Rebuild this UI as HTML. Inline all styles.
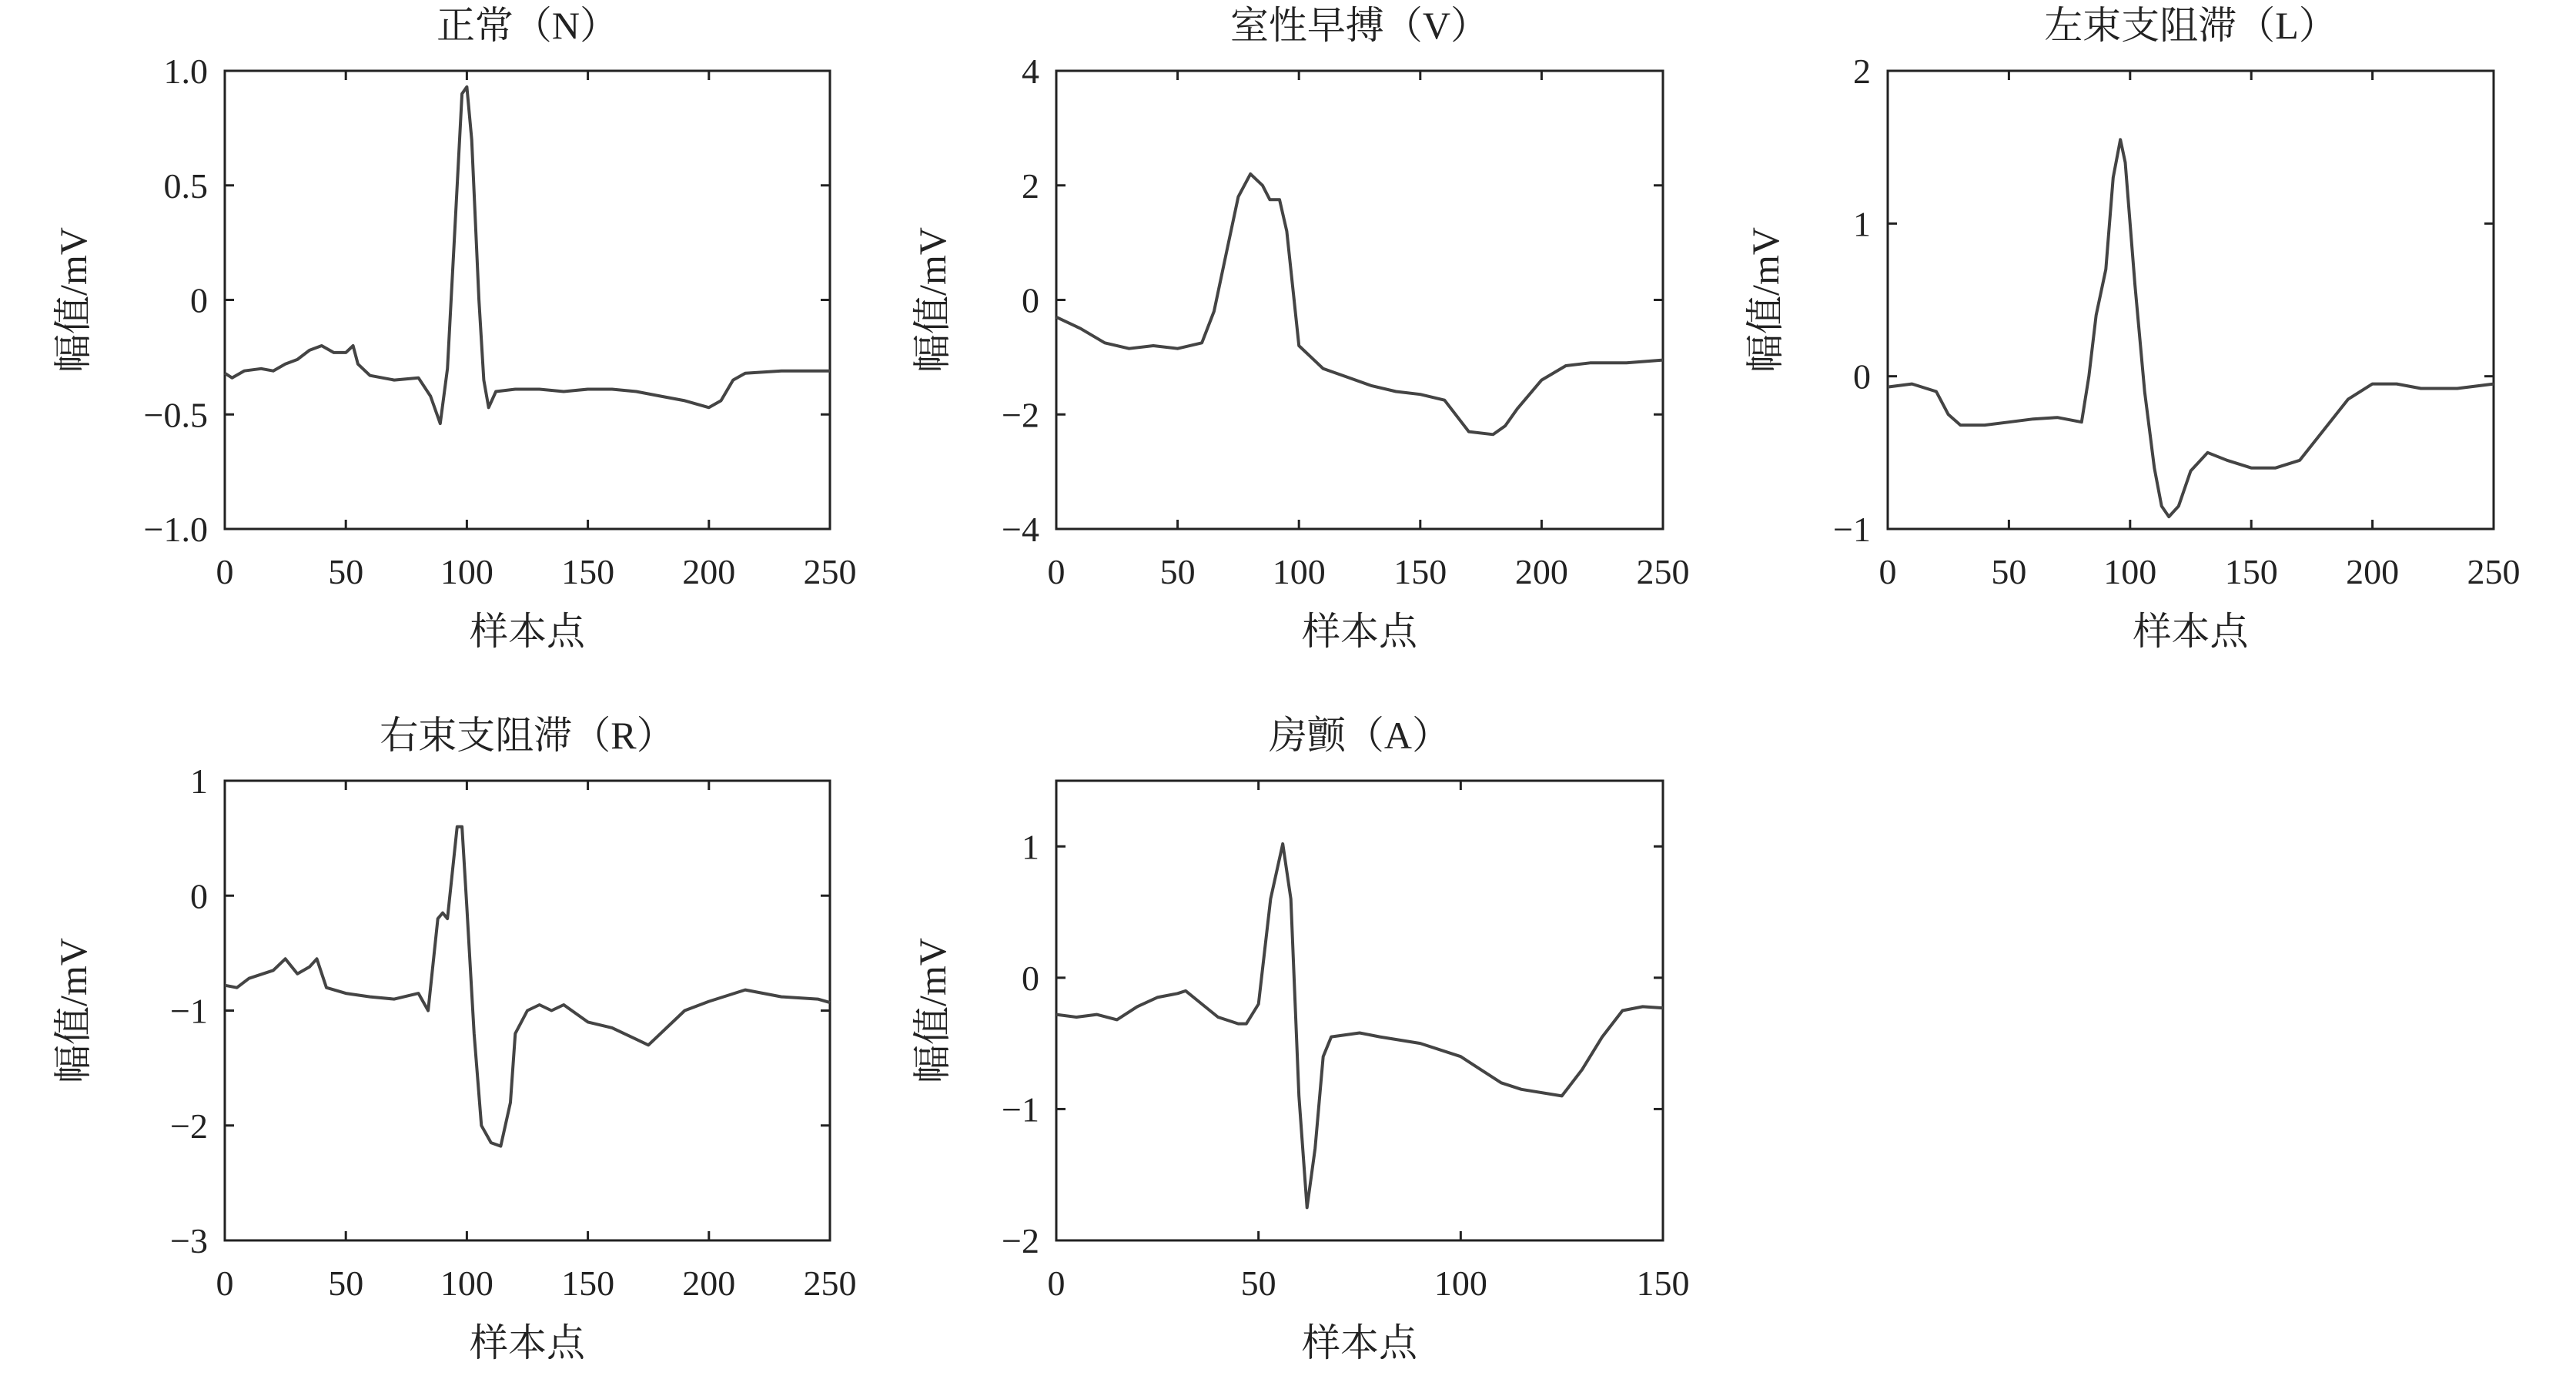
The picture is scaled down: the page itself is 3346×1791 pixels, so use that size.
<!DOCTYPE html>
<html><head><meta charset="utf-8">
<style>
html,body{margin:0;padding:0;background:#fff;}
svg{display:block;}
text{font-family:"Liberation Serif","Noto Serif CJK SC",serif;fill:#222;}
</style></head>
<body>
<svg id="fig" width="3346" height="1791" viewBox="0 0 3346 1791" xmlns="http://www.w3.org/2000/svg"></svg>
<script>
// ---- data arrays ----
const nX = [0,3,8,15,20,25,30,35,40,45,50,53,55,60,70,80,85,89,92,95,98,100,102,105,107,109,112,120,130,140,150,160,170,180,190,200,205,210,215,230,250];
const nY = [-0.32,-0.34,-0.31,-0.30,-0.31,-0.28,-0.26,-0.22,-0.20,-0.23,-0.23,-0.20,-0.28,-0.33,-0.35,-0.34,-0.42,-0.54,-0.30,0.30,0.90,0.93,0.70,0.0,-0.35,-0.47,-0.40,-0.39,-0.39,-0.40,-0.39,-0.39,-0.40,-0.42,-0.44,-0.47,-0.44,-0.35,-0.32,-0.31,-0.31];
const vX = [0,10,20,30,40,50,60,65,70,75,80,85,88,92,95,98,100,105,110,120,130,140,150,160,170,180,185,190,200,210,220,235,250];
const vY = [-0.3,-0.5,-0.75,-0.85,-0.8,-0.85,-0.75,-0.2,0.8,1.8,2.2,2.0,1.75,1.75,1.2,0,-0.8,-1.0,-1.2,-1.35,-1.5,-1.6,-1.65,-1.75,-2.3,-2.35,-2.2,-1.9,-1.4,-1.15,-1.1,-1.1,-1.05];
const lX = [0,10,20,25,30,40,50,60,70,80,83,86,90,93,96,98,102,106,110,113,116,120,125,132,140,150,160,170,180,190,200,210,220,235,250];
const lY = [-0.07,-0.05,-0.1,-0.25,-0.32,-0.32,-0.3,-0.28,-0.27,-0.3,0,0.4,0.7,1.3,1.55,1.4,0.6,-0.1,-0.6,-0.85,-0.92,-0.85,-0.62,-0.5,-0.55,-0.6,-0.6,-0.55,-0.35,-0.15,-0.05,-0.05,-0.08,-0.08,-0.05];
const rX = [0,5,10,20,25,30,35,38,42,50,60,70,80,84,88,90,92,96,98,100,103,106,110,114,118,120,125,130,135,140,150,160,170,175,190,200,215,230,245,250];
const rY = [-0.78,-0.8,-0.72,-0.65,-0.55,-0.68,-0.62,-0.55,-0.8,-0.85,-0.88,-0.9,-0.85,-1.0,-0.2,-0.15,-0.2,0.6,0.6,-0.1,-1.2,-2.0,-2.15,-2.18,-1.8,-1.2,-1.0,-0.95,-1.0,-0.95,-1.1,-1.15,-1.25,-1.3,-1.0,-0.92,-0.82,-0.88,-0.9,-0.93];
const aX = [0,5,10,15,20,25,30,32,36,40,45,47,50,53,56,58,60,62,64,66,68,75,80,90,100,105,110,115,125,130,135,140,145,150];
const aY = [-0.28,-0.3,-0.28,-0.32,-0.22,-0.15,-0.12,-0.1,-0.2,-0.3,-0.35,-0.35,-0.2,0.6,1.02,0.6,-0.9,-1.75,-1.3,-0.6,-0.45,-0.42,-0.45,-0.5,-0.6,-0.7,-0.8,-0.85,-0.9,-0.7,-0.45,-0.25,-0.22,-0.23];
const xTicks250 = [0,50,100,150,200,250];
const xTicks150 = [0,50,100,150];
const yTicksN = [-1.0,-0.5,0,0.5,1.0];
const yTickLabN = ["\u22121.0","\u22120.5","0","0.5","1.0"];
const yTicksV = [-4,-2,0,2,4];
const yTicksL = [-1,0,1,2];
const yTicksR = [-3,-2,-1,0,1];
const yTicksA = [-2,-1,0,1];

const NS="http://www.w3.org/2000/svg";
const fig=document.getElementById('fig');
function mk(tag,attrs,parent){const e=document.createElementNS(NS,tag);for(const k in attrs)e.setAttribute(k,attrs[k]);(parent||fig).appendChild(e);return e;}
function lab(v){return v<0?"\u2212"+Math.abs(v):String(v);}

function chart(o){
  const g=mk('g',{});
  
  
  const L=o.l,R=o.r,T=o.t,B=o.b;
  const sx=v=>L+(v-o.xmin)/(o.xmax-o.xmin)*(R-L);
  const sy=v=>B-(v-o.ymin)/(o.ymax-o.ymin)*(B-T);
  const fr=mk('rect',{x:L,y:T,width:R-L,height:B-T,fill:'none',stroke:'#222','stroke-width':3},g);
  
  
  o.xt.forEach(v=>{
    const x=sx(v);
    mk('line',{x1:x,y1:B,x2:x,y2:B-12,stroke:'#222','stroke-width':3},g);
    mk('line',{x1:x,y1:T,x2:x,y2:T+12,stroke:'#222','stroke-width':3},g);
    const t=mk('text',{x:x,y:B+71,'font-size':46,'text-anchor':'middle'},g);
    t.textContent=String(v);
    
    
  });
  o.yt.forEach((v,i)=>{
    const y=sy(v);
    mk('line',{x1:L,y1:y,x2:L+12,y2:y,stroke:'#222','stroke-width':3},g);
    mk('line',{x1:R,y1:y,x2:R-12,y2:y,stroke:'#222','stroke-width':3},g);
    const t=mk('text',{x:L-22,y:y+16,'font-size':46,'text-anchor':'end'},g);
    t.textContent=o.ylab?o.ylab[i]:lab(v);
    
    
  });
  let d='';
  o.xs.forEach((x,i)=>{d+=(i?'L':'M')+sx(x).toFixed(1)+' '+sy(o.ys[i]).toFixed(1)+' ';});
  const p=mk('path',{d:d,fill:'none',stroke:'#444','stroke-width':4,'stroke-linejoin':'round'},g);
  
  
  const ti=mk('text',{x:(L+R)/2,y:T-42,'font-size':50,'text-anchor':'middle'},g);
  ti.textContent=o.title;
  
  
  const xl=mk('text',{x:(L+R)/2,y:B+150,'font-size':50,'text-anchor':'middle'},g);
  xl.textContent='样本点';
  
  
  const yx=o.ylx, yy=(T+B)/2;
  const yl=mk('text',{x:yx,y:yy,'font-size':50,'text-anchor':'middle',transform:'rotate(-90 '+yx+' '+yy+')'},g);
  yl.textContent='幅值/mV';
  
  
}
const T1=92,B1=687,T2=1014,B2=1611;
chart({name:'chart-normal',title:'正常（N）',l:292,r:1078,t:T1,b:B1,xmin:0,xmax:250,ymin:-1,ymax:1,xt:xTicks250,yt:yTicksN,ylab:yTickLabN,xs:nX,ys:nY,ylx:112});
chart({name:'chart-pvc',title:'室性早搏（V）',l:1372,r:2160,t:T1,b:B1,xmin:0,xmax:250,ymin:-4,ymax:4,xt:xTicks250,yt:yTicksV,xs:vX,ys:vY,ylx:1228});
chart({name:'chart-lbbb',title:'左束支阻滞（L）',l:2452,r:3239,t:T1,b:B1,xmin:0,xmax:250,ymin:-1,ymax:2,xt:xTicks250,yt:yTicksL,xs:lX,ys:lY,ylx:2310});
chart({name:'chart-rbbb',title:'右束支阻滞（R）',l:292,r:1078,t:T2,b:B2,xmin:0,xmax:250,ymin:-3,ymax:1,xt:xTicks250,yt:yTicksR,xs:rX,ys:rY,ylx:112});
chart({name:'chart-af',title:'房颤（A）',l:1372,r:2160,t:T2,b:B2,xmin:0,xmax:150,ymin:-2,ymax:1.5,xt:xTicks150,yt:yTicksA,xs:aX,ys:aY,ylx:1228});
</script>
</body></html>
